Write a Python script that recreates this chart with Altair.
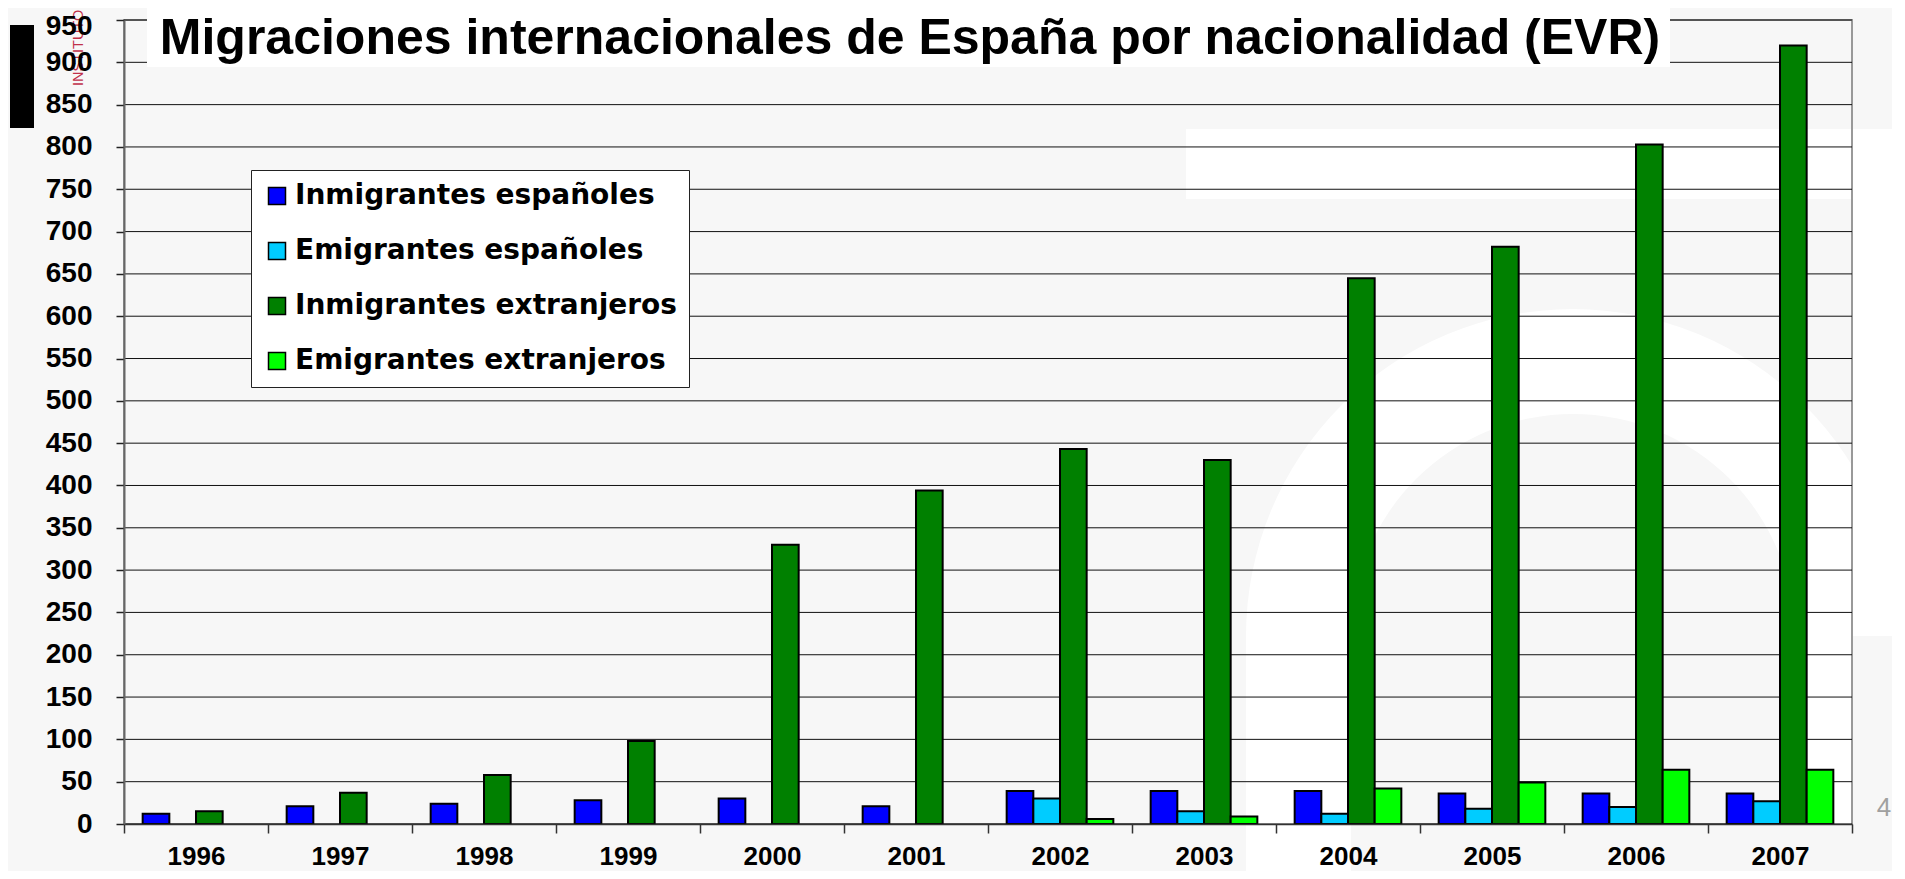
import altair as alt
import pandas as pd

# ---- data (miles de personas) ----
years = ["1996", "1997", "1998", "1999", "2000", "2001",
         "2002", "2003", "2004", "2005", "2006", "2007"]
series = ["Inmigrantes españoles", "Emigrantes españoles",
          "Inmigrantes extranjeros", "Emigrantes extranjeros"]
inm_esp = [12, 21, 24, 28, 30, 21, 39, 39, 39, 36, 36, 36]
emi_esp = [None, None, None, None, None, None, 30, 15, 12, 18, 20, 27]
inm_ext = [15, 37, 58, 98, 330, 394, 443, 430, 645, 682, 803, 920]
emi_ext = [None, None, None, None, None, None, 6, 9, 42, 49, 64, 64]
y_ticks = [0, 50, 100, 150, 200, 250, 300, 350, 400, 450, 500,
           550, 600, 650, 700, 750, 800, 850, 900, 950]
colors = ["#0000FF", "#00CCFF", "#008000", "#00FF00"]
title_text = "Migraciones internacionales de España por nacionalidad (EVR)"

rows = []
for name, vals in zip(series, [inm_esp, emi_esp, inm_ext, emi_ext]):
    for yr, v in zip(years, vals):
        if v is not None:
            rows.append({"year": yr, "series": name, "value": v})
df = pd.DataFrame(rows)
grid_df = pd.DataFrame({"value": y_ticks})
one = pd.DataFrame({"a": [0]})

W, H = 1728, 804
FONT = "Liberation Sans"

y_enc = alt.Y("value:Q",
              scale=alt.Scale(domain=[0, 950], nice=False, zero=True),
              axis=alt.Axis(values=y_ticks, title=None, grid=False,
                            labelFont=FONT, labelFontSize=28,
                            labelFontWeight="bold", labelColor="black",
                            labelPadding=24, tickSize=8, tickColor="#222",
                            tickWidth=1.5, domainColor="#666",
                            domainWidth=2, labelOverlap=False, zindex=1,
                            labelOffset={"condition": {"test": "datum.value == 950",
                                                       "value": 6},
                                         "value": 0}))

# watermark shapes (decoration)
wm_rect = alt.Chart(one).mark_rect(color="white").encode(
    x=alt.value(1062), x2=alt.value(1790), y=alt.value(109), y2=alt.value(179))
wm_side = alt.Chart(one).mark_rect(color="white").encode(
    x=alt.value(1729), x2=alt.value(1770), y=alt.value(179), y2=alt.value(615))
wm_arc = alt.Chart(one).mark_arc(color="white").encode(
    x=alt.value(1449), y=alt.value(616),
    theta=alt.value(4.712), theta2=alt.value(7.854),
    radius=alt.value(327), radius2=alt.value(222))
wm_leg1 = alt.Chart(one).mark_rect(color="white").encode(
    x=alt.value(1122), x2=alt.value(1227), y=alt.value(615), y2=alt.value(859))
wm_leg2 = alt.Chart(one).mark_rect(color="white").encode(
    x=alt.value(1671), x2=alt.value(1727), y=alt.value(615), y2=alt.value(804))

right_border = alt.Chart(one).mark_rule(color="#999", strokeWidth=2).encode(
    x=alt.value(W), y=alt.value(0), y2=alt.value(H))

grid = alt.Chart(grid_df).mark_rule(color="#111", strokeWidth=1).encode(y=y_enc)

title_box = alt.Chart(one).mark_rect(color="white").encode(
    x=alt.value(23), x2=alt.value(1546), y=alt.value(-20), y2=alt.value(47))

bars = alt.Chart(df).mark_bar(stroke="black", strokeWidth=2).encode(
    x=alt.X("year:N", sort=years,
            scale=alt.Scale(paddingInner=0, paddingOuter=0),
            axis=alt.Axis(title=None, labelAngle=0, labelFont=FONT,
                          labelFontSize=26, labelFontWeight="bold",
                          labelColor="black", labelPadding=10, tickSize=9,
                          tickColor="#333", tickWidth=1.5, tickBand="extent",
                          domainColor="#333", domainWidth=1.5, zindex=1)),
    xOffset=alt.XOffset("series:N", sort=series,
                        scale=alt.Scale(domain=series, paddingInner=0,
                                        paddingOuter=0.7)),
    y=y_enc,
    color=alt.Color("series:N", sort=series,
                    scale=alt.Scale(domain=series, range=colors),
                    legend=alt.Legend(
                        title=None, orient="none", legendX=127, legendY=150,
                        fillColor="white", strokeColor="#222", padding=12,
                        symbolType="square", symbolSize=289,
                        symbolStrokeColor="black", symbolStrokeWidth=1.5,
                        labelFont="DejaVu Sans", labelFontSize=28,
                        labelFontWeight="bold", labelColor="black",
                        labelLimit=0, labelOffset=4, rowPadding=27)),
)

title = alt.Chart(one).mark_text(
    text=title_text, font=FONT, fontSize=50, fontWeight="bold",
    color="black", align="center", baseline="alphabetic").encode(
    x=alt.value(786), y=alt.value(34))

black_bar = alt.Chart(one).mark_rect(color="black").encode(
    x=alt.value(-114), x2=alt.value(-90), y=alt.value(5), y2=alt.value(108))

instituto = alt.Chart(one).mark_text(
    text="INSTITUTO", font=FONT, fontSize=14.5, color="#C0304A",
    angle=270, align="left", baseline="middle").encode(
    x=alt.value(-45), y=alt.value(66))

page_num = alt.Chart(one).mark_text(
    text="4", font=FONT, fontSize=26, color="#A0A0A0",
    align="center", baseline="middle").encode(
    x=alt.value(1760), y=alt.value(788))

chart = alt.layer(
    wm_rect, wm_side, wm_arc, wm_leg1, wm_leg2, right_border, grid,
    title_box, bars, title, black_bar, instituto, page_num
).properties(
    width=W, height=H,
    autosize=alt.AutoSizeParams(type="none"),
    padding={"left": 116, "top": 12, "right": 40, "bottom": 47},
    background="#F7F7F7",
).configure_view(stroke="#999", strokeWidth=2)

chart.save("out.html", embed_options={"renderer": "svg", "actions": False})
